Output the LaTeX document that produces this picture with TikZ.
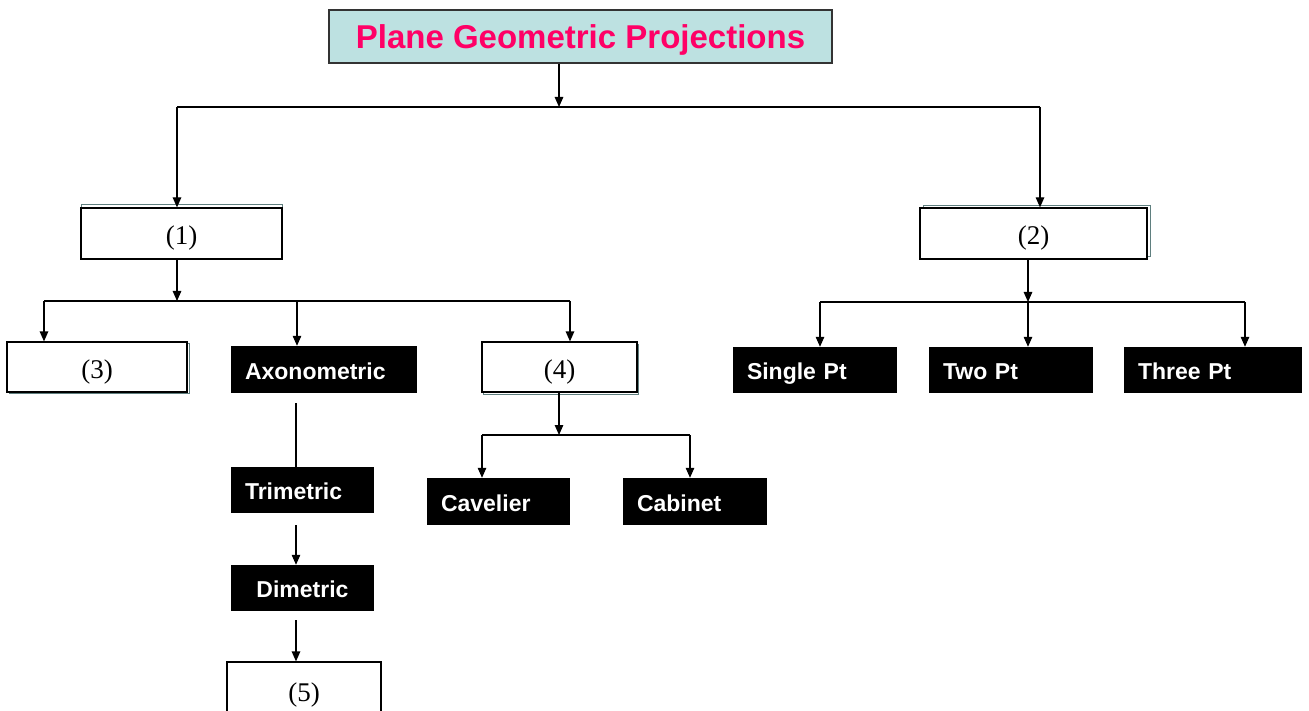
\documentclass[tikz,border=0pt]{standalone}
\usepackage{fontspec}
\setmainfont{Liberation Serif}
\setsansfont{Liberation Sans}
\usetikzlibrary{arrows.meta,shadows}
\definecolor{titlefill}{HTML}{BDE1E1}
\definecolor{titletext}{HTML}{FF0066}
\definecolor{shadowline}{HTML}{5F7F7F}

\begin{document}
\begin{tikzpicture}[x=1pt, y=-1pt]
    \tikzset{whitebox/.style = {shape=rectangle, draw=black, fill=white, line width=1.2pt, inner sep=0pt,
                                text height=22pt, text depth=0pt, font=\fontsize{27}{30}\selectfont}}
    \tikzset{blackbox/.style = {shape=rectangle, fill=black, text=white, inner xsep=14pt, inner ysep=0pt,
                                minimum height=46pt, align=left, text width=#1, text height=19pt, text depth=0pt,
                                font=\sffamily\bfseries\fontsize{23}{26}\selectfont}}
    \tikzset{edge/.style = {draw=black, line width=1.2pt}}
    \tikzset{arrow/.style = {edge, -{Triangle[length=10pt, width=8.5pt]}}}
    \tikzset{shade/.style = {copy shadow={#1, draw=shadowline, fill=white, line width=1pt}}}

    \useasboundingbox (0,0) rectangle (1309,711);
    \clip (0,0) rectangle (1309,711);

    % boxes
    \node[shape=rectangle, draw=black!80, fill=titlefill, line width=1.5pt, minimum width=503pt, minimum height=53pt,
          text height=23.6pt, text depth=0pt, inner ysep=0pt,
          text=titletext, font=\sffamily\bfseries\fontsize{33}{36}\selectfont] (title) at (580.5,36.5) {Plane Geometric Projections};

    \node[whitebox, shade={shadow xshift=0pt, shadow yshift=3pt}, minimum width=201pt, minimum height=51pt] (p1) at (181.5,233.5) {(1)};
    \node[whitebox, shade={shadow xshift=3pt, shadow yshift=2pt}, minimum width=227pt, minimum height=51pt] (p2) at (1033.5,233.5) {(2)};
    \node[whitebox, shade={shadow xshift=2pt, shadow yshift=-1pt}, minimum width=180pt, minimum height=50pt] (p3) at (97,367) {(3)};
    \node[whitebox, shade={shadow xshift=1pt, shadow yshift=-2pt}, minimum width=155pt, minimum height=50pt] (p4) at (559.5,367) {(4)};
    \node[whitebox, minimum width=154pt, minimum height=56pt] (p5) at (304,690) {(5)};

    \node[blackbox=158pt, minimum height=47pt] (axo) at (324,369.5) {Axonometric};
    \node[blackbox=115pt] (tri) at (302.5,490) {Trimetric};
    \node[blackbox=115pt, align=center] (dim) at (302.5,588) {Dimetric};
    \node[blackbox=115pt, minimum height=47pt] (cav) at (498.5,501.5) {Cavelier};
    \node[blackbox=116pt, minimum height=47pt] (cab) at (695,501.5) {Cabinet};

    \node[blackbox=136pt] (single) at (815,370) {Single Pt};
    \node[blackbox=136pt] (two) at (1011,370) {Two Pt};
    \node[blackbox=150pt] (three) at (1213,370) {Three Pt};

    % junctions
    \coordinate (top-m) at (559,107);
    \coordinate (top-l) at (177,107);
    \coordinate (top-r) at (1040,107);
    \coordinate (left-m) at (177,301);
    \coordinate (left-a) at (44,301);
    \coordinate (left-b) at (297,301);
    \coordinate (left-c) at (570,301);
    \coordinate (right-m) at (1028,302);
    \coordinate (right-a) at (820,302);
    \coordinate (right-c) at (1245,302);
    \coordinate (obl-m) at (559,435);
    \coordinate (obl-a) at (482,435);
    \coordinate (obl-b) at (690,435);
    \coordinate (axo-c) at (296,403);

    % edges
    \draw[arrow] (title.south -| top-m) -- (top-m);
    \draw[edge] (top-l) -- (top-r);
    \draw[arrow] (top-l) -- (p1.north -| top-l);
    \draw[arrow] (top-r) -- (p2.north -| top-r);

    \draw[arrow] (p1.south -| left-m) -- (left-m);
    \draw[edge] (left-a) -- (left-c);
    \draw[arrow] (left-a) -- (p3.north -| left-a);
    \draw[arrow] (left-b) -- (axo.north -| left-b);
    \draw[arrow] (left-c) -- (p4.north -| left-c);

    \draw[arrow] (p2.south -| right-m) -- (right-m);
    \draw[edge] (right-a) -- (right-c);
    \draw[arrow] (right-a) -- (single.north -| right-a);
    \draw[arrow] (right-m) -- (two.north -| right-m);
    \draw[arrow] (right-c) -- (three.north -| right-c);

    \draw[arrow] (p4.south -| obl-m) -- (obl-m);
    \draw[edge] (obl-a) -- (obl-b);
    \draw[arrow] (obl-a) -- (cav.north -| obl-a);
    \draw[arrow] (obl-b) -- (cab.north -| obl-b);

    \draw[edge] (axo-c) -- (tri.north -| axo-c);
    \draw[arrow] ([yshift=-12pt]tri.south -| axo-c) -- (dim.north -| axo-c);
    \draw[arrow] ([yshift=-9pt]dim.south -| axo-c) -- (p5.north -| axo-c);
\end{tikzpicture}
\end{document}
